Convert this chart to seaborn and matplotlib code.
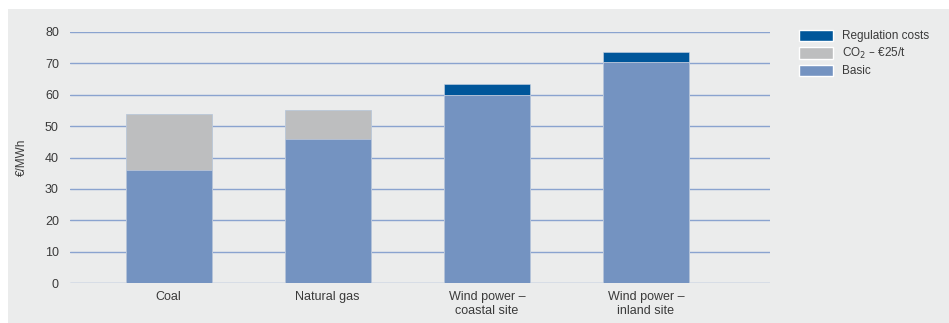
import numpy as np
import pandas as pd
import seaborn as sns
import matplotlib.pyplot as plt
from matplotlib.patches import Patch, Rectangle

categories = ['Coal', 'Natural gas', 'Wind power –\ncoastal site', 'Wind power –\ninland site']
basic = [36, 46, 60, 70.3]
co2 = [18, 9, 0, 0]
regulation = [0, 0, 3.4, 3.4]

df = pd.DataFrame({'source': categories, 'basic': basic, 'co2': co2, 'regulation': regulation})
df['basic_co2'] = df['basic'] + df['co2']
df['total'] = df['basic_co2'] + df['regulation']

c_basic = '#7493c1'
c_co2 = '#bdbebf'
c_reg = '#00569a'
bg = '#ebecec'
txt = '#3a3a3a'

sns.set_theme(style='white')
plt.rcParams['font.family'] = ['Liberation Sans', 'DejaVu Sans']

fig = plt.figure(figsize=(9.49, 3.23), dpi=100, facecolor='white')
fig.patches.append(Rectangle((8 / 949, 0), 1, 1 - 9 / 323, transform=fig.transFigure,
                             facecolor=bg, edgecolor='none', zorder=-10))
ax = fig.add_axes([70 / 949, 40 / 323, 700 / 949, 251 / 323])
ax.set_facecolor(bg)
ax.patch.set_alpha(0)

# stacked by overdrawing cumulative totals
for col, c in [('total', c_reg), ('basic_co2', c_co2), ('basic', c_basic)]:
    sns.barplot(data=df, x='source', y=col, color=c, width=0.54, saturation=1,
                edgecolor='#c9d3e3', linewidth=0.4, ax=ax, zorder=3)

ax.set_ylim(0, 80)
ax.set_xlim(-0.62, 3.78)
ax.set_yticks(range(0, 81, 10))
ax.yaxis.grid(True, color='#8aa3cf', linewidth=1.0, zorder=0)
ax.set_axisbelow(True)
for s in ax.spines.values():
    s.set_visible(False)
ax.tick_params(axis='both', length=0, labelsize=9, colors=txt)
ax.tick_params(axis='y', pad=8)
ax.tick_params(axis='x', pad=6)
ax.set_xlabel('')
ax.set_ylabel('€/MWh', fontsize=8.5, color=txt, labelpad=12)

handles = [Patch(facecolor=c_reg), Patch(facecolor=c_co2), Patch(facecolor=c_basic)]
labels = ['Regulation costs', 'CO$_2$ – €25/t', 'Basic']
fig.legend(handles, labels, loc='upper left', bbox_to_anchor=(794 / 949, 1 - 25 / 323),
           frameon=False, fontsize=8.5, handlelength=2.9, handleheight=1.1,
           labelspacing=0.3, handletextpad=0.8, labelcolor=txt, borderaxespad=0)

fig.savefig('out.png', dpi=100, facecolor='white')
